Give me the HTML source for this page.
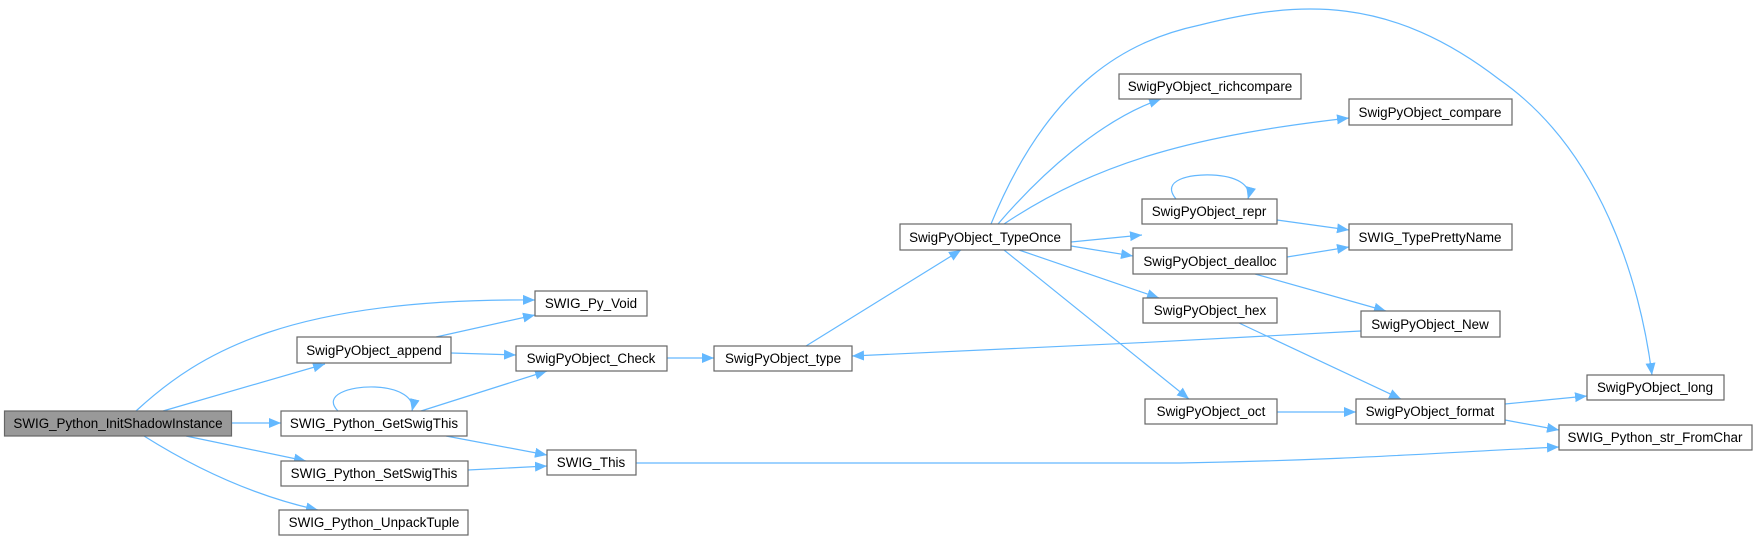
<!DOCTYPE html>
<html><head><meta charset="utf-8"><style>
html,body{margin:0;padding:0;background:#fff;}
svg{display:block;}
text{font-family:"Liberation Sans",Arial,sans-serif;font-size:13.4px;fill:#000;}
.e{fill:none;stroke:#63b8ff;stroke-width:1.2;}
.n{fill:#fff;stroke:#666;stroke-width:1.2;}
</style></head><body>
<svg width="1757" height="541" viewBox="0 0 1757 541" xmlns="http://www.w3.org/2000/svg">
<defs>
<marker id="a" markerUnits="userSpaceOnUse" markerWidth="14" markerHeight="12" refX="12" refY="5" orient="auto">
<path d="M0,0 L12,5 L0,10 Z" fill="#63b8ff"/>
</marker>
</defs>
<g marker-end="url(#a)">
<path class="e" d="M136,411 C200,352 290,298 535,300"/>
<path class="e" d="M163,411 L325,364"/>
<path class="e" d="M232,423 L281,423"/>
<path class="e" d="M186,436 L306,461"/>
<path class="e" d="M144,436 C190,465 250,495 318,510"/>
<path class="e" d="M436,337 L535,315"/>
<path class="e" d="M451,353 L516,355"/>
<path class="e" d="M421,411 L547,371"/>
<path class="e" d="M338,411 C322,395 350,386 375,387 C400,388 415,398 412,411"/>
<path class="e" d="M446,436 L547,455"/>
<path class="e" d="M468,470 L547,466"/>
<path class="e" d="M667,358 L714,358"/>
<path class="e" d="M806,346 L961,250"/>
<path class="e" d="M998,224 C1040,175 1100,120 1161,99"/>
<path class="e" d="M1004,224 C1100,160 1200,135 1349,118"/>
<path class="e" d="M991,224 C1050,80 1130,40 1200,25 C1300,0 1390,-5 1500,80 C1600,150 1640,280 1652,375"/>
<path class="e" d="M1071,242 L1142,235"/>
<path class="e" d="M1071,246 L1133,256"/>
<path class="e" d="M1019,250 L1159,298"/>
<path class="e" d="M1004,250 L1189,399"/>
<path class="e" d="M1176,199 C1160,180 1190,174 1212,175 C1235,176 1252,184 1248,199"/>
<path class="e" d="M1277,220 L1349,230"/>
<path class="e" d="M1287,257 L1349,247"/>
<path class="e" d="M1255,274 L1386,311"/>
<path class="e" d="M1361,331 C1200,340 1000,350 852,356"/>
<path class="e" d="M1239,323 L1401,399"/>
<path class="e" d="M1277,412 L1356,412"/>
<path class="e" d="M1505,404 L1587,396"/>
<path class="e" d="M1505,420 L1559,430"/>
<path class="e" d="M636,463 L1180,463 C1350,460 1450,452 1559,447"/>
</g>
<g>
<rect x="4.5" y="411" width="227" height="25" fill="#999" stroke="#666" stroke-width="1.2"/>
<text x="118" y="428" text-anchor="middle">SWIG_Python_InitShadowInstance</text>
<rect class="n" x="535" y="291" width="112" height="25"/><text x="591" y="308" text-anchor="middle">SWIG_Py_Void</text>
<rect class="n" x="297" y="337" width="154" height="26"/><text x="374" y="355" text-anchor="middle">SwigPyObject_append</text>
<rect class="n" x="281" y="411" width="186" height="25"/><text x="374" y="428" text-anchor="middle">SWIG_Python_GetSwigThis</text>
<rect class="n" x="281" y="461" width="187" height="25"/><text x="374" y="478" text-anchor="middle">SWIG_Python_SetSwigThis</text>
<rect class="n" x="279" y="510" width="189" height="25"/><text x="374" y="527" text-anchor="middle">SWIG_Python_UnpackTuple</text>
<rect class="n" x="516" y="346" width="151" height="25"/><text x="591" y="363" text-anchor="middle">SwigPyObject_Check</text>
<rect class="n" x="547" y="450" width="89" height="25"/><text x="591" y="467" text-anchor="middle">SWIG_This</text>
<rect class="n" x="714" y="346" width="138" height="25"/><text x="783" y="363" text-anchor="middle">SwigPyObject_type</text>
<rect class="n" x="900" y="224" width="171" height="26"/><text x="985" y="242" text-anchor="middle">SwigPyObject_TypeOnce</text>
<rect class="n" x="1119" y="74" width="182" height="25"/><text x="1210" y="91" text-anchor="middle">SwigPyObject_richcompare</text>
<rect class="n" x="1349" y="99" width="163" height="26"/><text x="1430" y="117" text-anchor="middle">SwigPyObject_compare</text>
<rect class="n" x="1142" y="199" width="135" height="25"/><text x="1209" y="216" text-anchor="middle">SwigPyObject_repr</text>
<rect class="n" x="1349" y="224" width="163" height="26"/><text x="1430" y="242" text-anchor="middle">SWIG_TypePrettyName</text>
<rect class="n" x="1133" y="248" width="154" height="26"/><text x="1210" y="266" text-anchor="middle">SwigPyObject_dealloc</text>
<rect class="n" x="1143" y="298" width="134" height="25"/><text x="1210" y="315" text-anchor="middle">SwigPyObject_hex</text>
<rect class="n" x="1361" y="311" width="139" height="26"/><text x="1430" y="329" text-anchor="middle">SwigPyObject_New</text>
<rect class="n" x="1145" y="399" width="132" height="25"/><text x="1211" y="416" text-anchor="middle">SwigPyObject_oct</text>
<rect class="n" x="1356" y="399" width="149" height="25"/><text x="1430" y="416" text-anchor="middle">SwigPyObject_format</text>
<rect class="n" x="1587" y="375" width="137" height="25"/><text x="1655" y="392" text-anchor="middle">SwigPyObject_long</text>
<rect class="n" x="1559" y="425" width="193" height="25"/><text x="1655" y="442" text-anchor="middle">SWIG_Python_str_FromChar</text>
</g>
</svg>
</body></html>
